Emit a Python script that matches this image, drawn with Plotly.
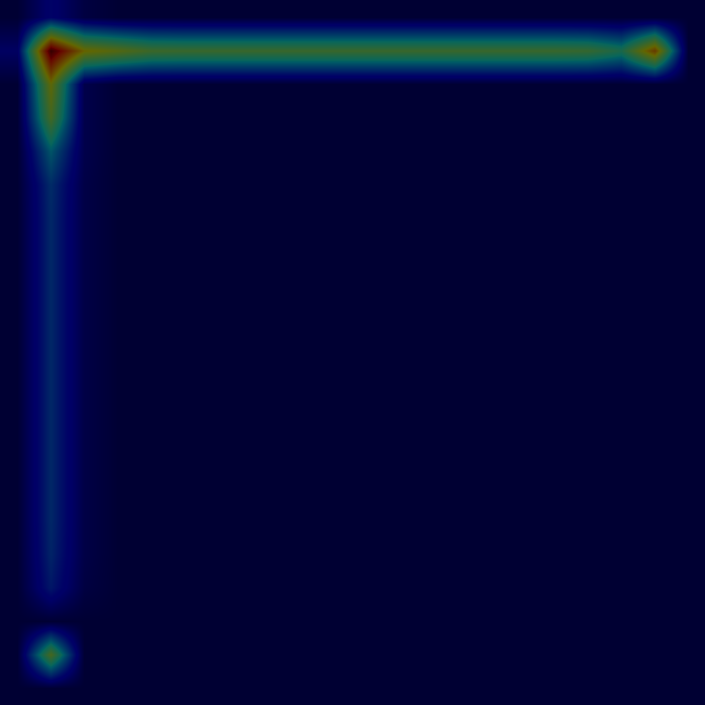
import numpy as np
import plotly.graph_objects as go

N = 21
# cell values (rows top->bottom, cols left->right)
row1_values = [0.10, 1.00, 0.66, 0.60, 0.53, 0.52, 0.52, 0.52, 0.52, 0.52, 0.52,
               0.52, 0.52, 0.52, 0.52, 0.52, 0.52, 0.51, 0.43, 0.76, 0.00]
col1_values = [0.13, 1.00, 0.63, 0.55, 0.33, 0.23, 0.22, 0.22, 0.22, 0.22, 0.22,
               0.22, 0.22, 0.22, 0.22, 0.22, 0.21, 0.18, 0.00, 0.56, 0.00]
col2_values = [0.03, 0.66, 0.05, 0.05, 0.05, 0.04, 0.04, 0.04, 0.04, 0.04, 0.04,
               0.04, 0.04, 0.04, 0.04, 0.04, 0.04, 0.03, 0.00, 0.00, 0.00]

z = np.zeros((N, N))
z[1, :] = row1_values
z[:, 1] = col1_values
z[:, 2] = col2_values
z[1, 2] = row1_values[2]

# darkened matplotlib-style jet colour scale
dark = 0.4
s = np.linspace(0, 1, 101)
r = np.interp(s, [0, 0.35, 0.66, 0.89, 1], [0, 0, 1, 1, 0.5])
g = np.interp(s, [0, 0.125, 0.375, 0.64, 0.91, 1], [0, 0, 1, 1, 0, 0])
b = np.interp(s, [0, 0.11, 0.34, 0.65, 1], [0.5, 1, 1, 0, 0])
colorscale = [[float(v), f"rgb({int(round(rr*255*dark))},{int(round(gg*255*dark))},{int(round(bb*255*dark))})"]
              for v, rr, gg, bb in zip(s, r, g, b)]

fig = go.Figure(go.Heatmap(z=z, zsmooth="best", colorscale=colorscale,
                           zmin=0, zmax=1, showscale=False, hoverinfo="skip"))
fig.update_layout(width=705, height=705, margin=dict(l=0, r=0, t=0, b=0),
                  paper_bgcolor="black", plot_bgcolor="black")
fig.update_xaxes(visible=False, range=[-0.5, N - 0.5])
fig.update_yaxes(visible=False, range=[N - 0.5, -0.5])
fig.write_html("out.html")
